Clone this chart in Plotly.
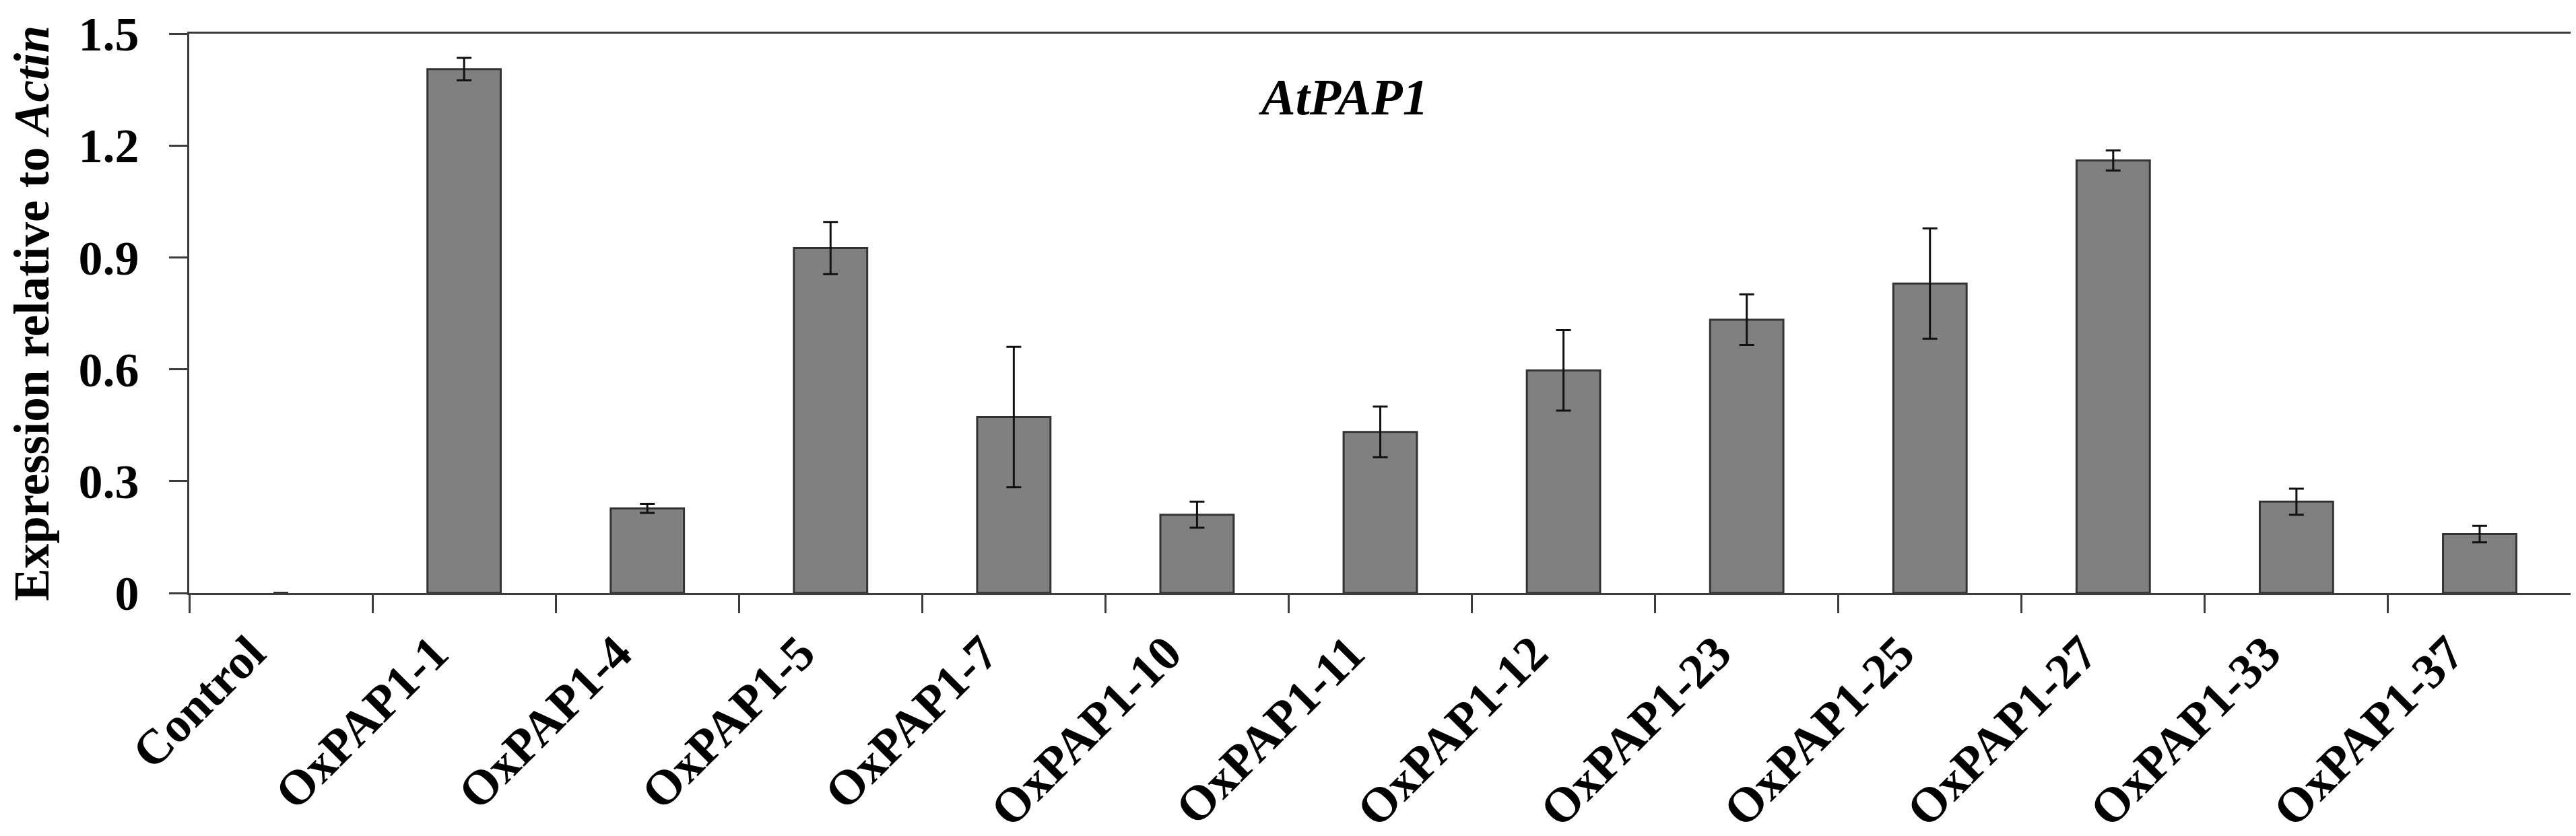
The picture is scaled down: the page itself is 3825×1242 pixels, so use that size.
import plotly.graph_objects as go

categories = ["Control", "OxPAP1-1", "OxPAP1-4", "OxPAP1-5", "OxPAP1-7", "OxPAP1-10",
              "OxPAP1-11", "OxPAP1-12", "OxPAP1-23", "OxPAP1-25", "OxPAP1-27",
              "OxPAP1-33", "OxPAP1-37"]
values = [0.0, 1.405, 0.227, 0.925, 0.472, 0.21, 0.432, 0.597, 0.733, 0.83, 1.16, 0.245, 0.158]
errors = [0.0, 0.03, 0.012, 0.07, 0.188, 0.035, 0.068, 0.108, 0.068, 0.148, 0.027, 0.035, 0.022]
y_ticks = [0, 0.3, 0.6, 0.9, 1.2, 1.5]
y_tick_labels = ["0", "0.3", "0.6", "0.9", "1.2", "1.5"]

FONT = "Liberation Serif, Times New Roman, serif"
LINE = "#3c3c3c"

outline_widths = [0 if v == 0 else 3 for v in values]
fill_colors = ["rgba(0,0,0,0)" if v == 0 else "#808080" for v in values]
err_shown = [e if e > 0 else None for e in errors]

fig = go.Figure()
fig.add_trace(go.Bar(
    x=categories, y=values,
    marker=dict(color=fill_colors, line=dict(color="#333333", width=outline_widths)),
    error_y=dict(type="data", array=err_shown, visible=True, color="#111111",
                 thickness=3, width=11),
    width=0.4,
    showlegend=False,
))

fig.update_layout(
    width=3825, height=1242,
    margin=dict(l=273, r=15, t=42, b=369),
    paper_bgcolor="white", plot_bgcolor="white",
    font=dict(family=FONT, color="black"),
    xaxis=dict(
        type="category", automargin=False,
        showline=True, linecolor=LINE, linewidth=3, mirror=True,
        ticks="outside", ticklen=27, tickwidth=3, tickcolor=LINE,
        tickson="boundaries",
        tickangle=-45,
        tickfont=dict(family=FONT, size=73, weight="bold", color="black"),
        ticklabelstandoff=14,
        ticklabelshift=-45,
        showgrid=False, zeroline=False,
    ),
    yaxis=dict(
        range=[0, 1.5], automargin=False,
        tickvals=y_ticks, ticktext=y_tick_labels,
        showline=True, linecolor=LINE, linewidth=3, mirror=True,
        ticks="outside", ticklen=27, tickwidth=3, tickcolor=LINE,
        tickfont=dict(family=FONT, size=72, weight="bold", color="black"),
        ticklabelstandoff=30,
        showgrid=False, zeroline=False,
    ),
    annotations=[
        dict(text="Expression relative to <i>Actin</i>", textangle=-90,
             xref="paper", yref="paper", x=-0.066, y=0.5,
             xanchor="center", yanchor="middle", showarrow=False,
             font=dict(family=FONT, size=73, weight="bold", color="black")),
        dict(text="<i>AtPAP1</i>",
             xref="paper", yref="paper", x=0.4846, y=0.887,
             xanchor="center", yanchor="middle", showarrow=False,
             font=dict(family=FONT, size=76, weight="bold", color="black")),
    ],
)

fig.write_html("out.html")
